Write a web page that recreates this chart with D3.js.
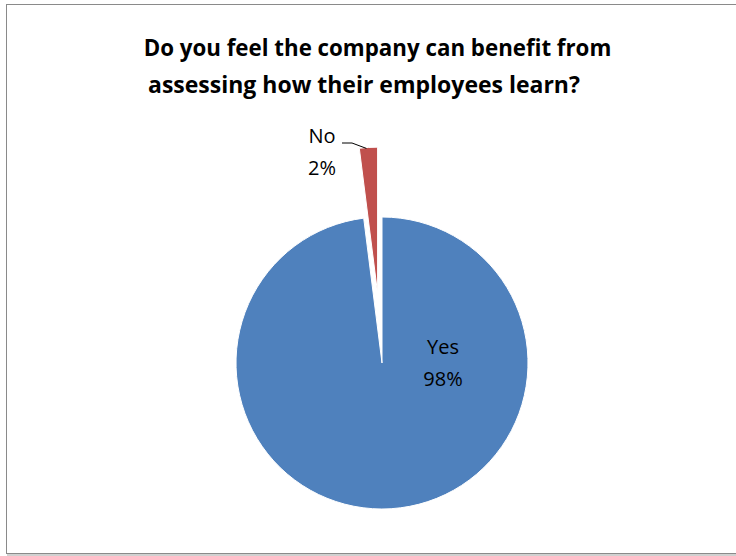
<!DOCTYPE html>
<html>
<head>
<meta charset="utf-8">
<script src="https://cdn.jsdelivr.net/npm/d3@7"></script>
<style>
  body { margin: 0; background: #fff; }
  text { font-family: "Open Sans", "Noto Sans", sans-serif; fill: #000; }
</style>
</head>
<body>
<div id="chart"></div>
<script>
// Survey answers
const answers = ['Yes', 'No'];
const shares = [98, 2];
const titleLines = ['Do you feel the company can benefit from', 'assessing how their employees learn?'];

const width = 736, height = 556;
const cx = 382, cy = 363, radius = 146;
const explode = 70; // "No" slice pulled out
const colors = d3.scaleOrdinal().domain(answers).range(['#4F81BD', '#C0504D']);

const svg = d3.select('#chart').append('svg')
    .attr('width', width)
    .attr('height', height);

// chart frame with a soft shadow
svg.append('rect')
    .attr('x', 8).attr('y', 6)
    .attr('width', 740).attr('height', 549)
    .attr('fill', 'none')
    .attr('stroke', '#d0d0d0')
    .attr('stroke-width', 2);
svg.append('rect')
    .attr('x', 6.5).attr('y', 4.5)
    .attr('width', 740).attr('height', 549)
    .attr('fill', '#fff')
    .attr('stroke', '#8a8a8a')
    .attr('stroke-width', 1);

// fit a text element to a width measured on the picture
function fit(sel, target) {
    const w = sel.node().getComputedTextLength();
    const fs = parseFloat(sel.style('font-size'));
    sel.style('font-size', (fs * target / w) + 'px');
}

// Title
const titleCenters = [377.5, 364];
const titleWidths = [468, 432];
const titleBase = [56, 93];
titleLines.forEach((line, i) => {
    const t = svg.append('text')
        .attr('x', titleCenters[i])
        .attr('y', titleBase[i])
        .attr('text-anchor', 'middle')
        .style('font-weight', 'bold')
        .style('font-size', '24px')
        .text(line);
    fit(t, titleWidths[i]);
});

const data = answers.map((a, i) => ({ answer: a, value: shares[i] }));

const pie = d3.pie().sort(null).value(d => d.value);
const arc = d3.arc().innerRadius(0).outerRadius(radius);
const arcs = pie(data);

const g = svg.append('g').attr('transform', `translate(${cx},${cy})`);

function offset(d) {
    if (d.data.answer !== 'No') return [0, 0];
    const mid = (d.startAngle + d.endAngle) / 2;
    return [Math.sin(mid) * explode, -Math.cos(mid) * explode];
}

g.selectAll('path.slice')
    .data(arcs)
    .enter().append('path')
    .attr('class', 'slice')
    .attr('d', arc)
    .attr('transform', d => `translate(${offset(d)})`)
    .attr('fill', d => colors(d.data.answer))
    .attr('stroke', '#fff')
    .attr('stroke-width', 1);

// Yes label inside the pie
const yes = arcs[0];
const yesLabel = g.append('text')
    .attr('x', 61)
    .attr('text-anchor', 'middle')
    .style('font-size', '20px');
yesLabel.append('tspan').attr('x', 61).attr('y', -9).text(yes.data.answer);
yesLabel.append('tspan').attr('x', 61).attr('y', 23).text(yes.data.value + '%');

// No label outside with a leader line
const no = arcs[1];
const [ox, oy] = offset(no);
const mid = (no.startAngle + no.endAngle) / 2;
const tip = [ox + Math.sin(mid) * radius, oy - Math.cos(mid) * radius];

g.append('path')
    .attr('d', d3.line()([[-40, -220], [-30, -220], [tip[0] - 2, tip[1] + 1]]))
    .attr('fill', 'none')
    .attr('stroke', '#000')
    .attr('stroke-width', 1);

const noLabel = g.append('text')
    .attr('text-anchor', 'middle')
    .style('font-size', '20px');
noLabel.append('tspan').attr('x', -60).attr('y', -220).text(no.data.answer);
noLabel.append('tspan').attr('x', -60).attr('y', -188).text(no.data.value + '%');
</script>
</body>
</html>
